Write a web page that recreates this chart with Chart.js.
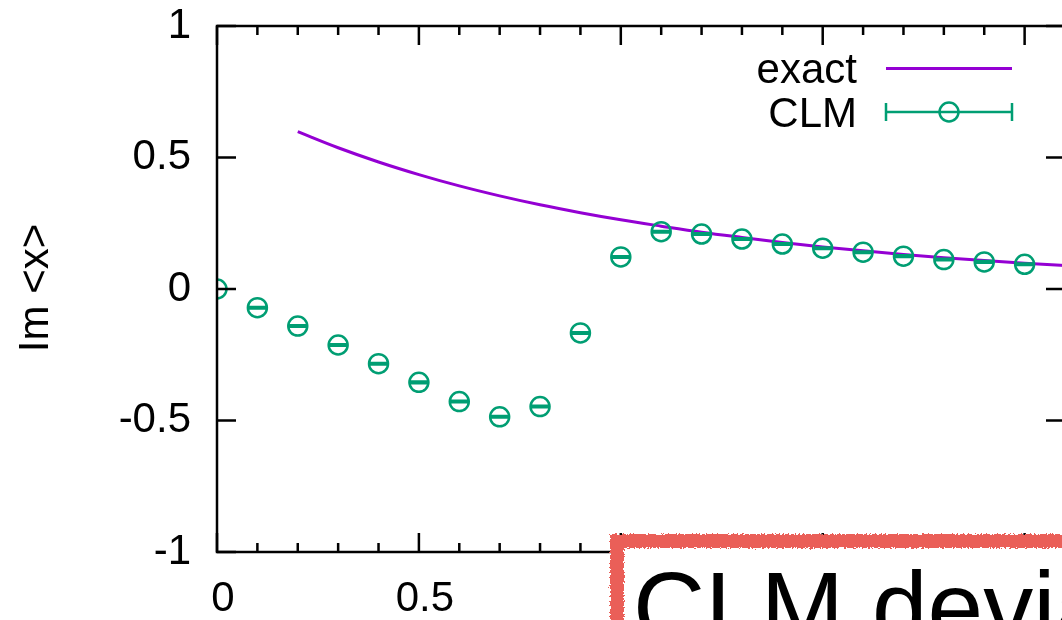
<!DOCTYPE html>
<html>
<head>
<meta charset="utf-8">
<title>Im &lt;x&gt;</title>
<script src="https://cdn.jsdelivr.net/npm/chart.js@4.4.1/dist/chart.umd.min.js"></script>
<style>
  html, body { margin: 0; padding: 0; background: #fff; overflow: hidden; }
  #wrap { position: relative; width: 1062px; height: 620px; overflow: hidden; }
  #plot { position: absolute; left: 0; top: 0; width: 1080px; height: 620px; }
  #noteFrame {
    position: absolute; left: 610px; top: 534px; width: 600px; height: 200px;
    box-sizing: border-box; border: 14px solid #ea5f58; background: #fff;
    filter: url(#rough);
  }
  #noteText {
    position: absolute; left: 633px; top: 557px; white-space: nowrap;
    font: 100px/100px "Liberation Sans", Arial, sans-serif; color: #000;
  }
</style>
</head>
<body>
<svg width="0" height="0" style="position:absolute">
  <filter id="rough">
    <feTurbulence type="fractalNoise" baseFrequency="0.55" numOctaves="2" result="noise"/>
    <feDisplacementMap in="SourceGraphic" in2="noise" scale="5" xChannelSelector="R" yChannelSelector="G"/>
  </filter>
</svg>
<div id="wrap">
  <div id="plot"><canvas id="chart" width="1080" height="620"></canvas></div>
  <div id="noteFrame"></div>
  <div id="noteText">CLM deviates</div>
</div>
<script>
// CLM samples with their (tiny) error bars
const clmX = [0, 0.1, 0.2, 0.3, 0.4, 0.5, 0.6, 0.7, 0.8, 0.9, 1.0,
              1.1, 1.2, 1.3, 1.4, 1.5, 1.6, 1.7, 1.8, 1.9, 2.0];
const clmY = [0, -0.071, -0.141, -0.213, -0.284, -0.355, -0.428, -0.486, -0.447, -0.167, 0.122,
              0.218, 0.209, 0.190, 0.171, 0.155, 0.140, 0.125, 0.112, 0.103, 0.094];
const clmErr = [0, 0.003, 0.003, 0.003, 0.003, 0.003, 0.003, 0.003, 0.003, 0.003, 0.003,
                0.003, 0.003, 0.003, 0.003, 0.003, 0.003, 0.003, 0.003, 0.003, 0.003];

// exact result
const exactX = [0.2, 0.3, 0.4, 0.5, 0.6, 0.7, 0.8, 0.9, 1.0, 1.1,
                1.2, 1.3, 1.4, 1.5, 1.6, 1.7, 1.8, 1.9, 2.0, 2.1];
const exactY = [0.598, 0.537, 0.483, 0.435, 0.392, 0.354, 0.320, 0.290, 0.263, 0.239,
                0.216, 0.196, 0.177, 0.160, 0.145, 0.131, 0.119, 0.108, 0.098, 0.089];

const xTicks = [0, 0.5, 1, 1.5, 2];
const yTicks = [-1, -0.5, 0, 0.5, 1];
const seriesNames = ['exact', 'CLM'];
const yTitle = 'Im <x>';

const FONT = '"Liberation Sans", Arial, sans-serif';
const PURPLE = '#9400d3';
const GREEN = '#009e73';

// border, inward ticks, error bars, key and y label in gnuplot style
const gnuplotFrame = {
  id: 'gnuplotFrame',
  afterDatasetsDraw(chart) {
    const { ctx, chartArea: a, scales: { x, y } } = chart;
    ctx.save();

    // error bars on CLM points
    ctx.strokeStyle = GREEN;
    ctx.lineWidth = 2.5;
    chart.getDatasetMeta(1).data.forEach((pt, i) => {
      const e = clmErr[i];
      if (!e) return;
      const yHi = y.getPixelForValue(clmY[i] + e);
      const yLo = y.getPixelForValue(clmY[i] - e);
      ctx.beginPath();
      ctx.moveTo(pt.x, yHi); ctx.lineTo(pt.x, yLo);
      ctx.moveTo(pt.x - 9, yHi); ctx.lineTo(pt.x + 9, yHi);
      ctx.moveTo(pt.x - 9, yLo); ctx.lineTo(pt.x + 9, yLo);
      ctx.stroke();
    });

    // border
    ctx.strokeStyle = '#000';
    ctx.lineWidth = 2.5;
    ctx.strokeRect(a.left, a.top, a.right - a.left, a.bottom - a.top);

    // x ticks: major every 0.5, minor every 0.1, both edges
    ctx.beginPath();
    for (let i = 0; i <= 21; i++) {
      const px = x.getPixelForValue(i / 10);
      const len = i % 5 === 0 ? 19 : 9;
      ctx.moveTo(px, a.bottom); ctx.lineTo(px, a.bottom - len);
      ctx.moveTo(px, a.top); ctx.lineTo(px, a.top + len);
    }
    // y ticks, mirrored on the right
    yTicks.forEach(v => {
      const py = y.getPixelForValue(v);
      ctx.moveTo(a.left, py); ctx.lineTo(a.left + 19, py);
      ctx.moveTo(a.right, py); ctx.lineTo(a.right - 19, py);
    });
    ctx.stroke();

    // key
    ctx.font = '42px ' + FONT;
    ctx.fillStyle = '#000';
    ctx.textAlign = 'right';
    ctx.textBaseline = 'alphabetic';
    ctx.fillText(seriesNames[0], 857, 83);
    ctx.fillText(seriesNames[1], 857, 127);

    ctx.strokeStyle = PURPLE;
    ctx.lineWidth = 3;
    ctx.beginPath();
    ctx.moveTo(886, 68.5); ctx.lineTo(1012, 68.5);
    ctx.stroke();

    ctx.strokeStyle = GREEN;
    ctx.lineWidth = 2.5;
    ctx.beginPath();
    ctx.moveTo(886, 112); ctx.lineTo(1012, 112);
    ctx.moveTo(886, 103); ctx.lineTo(886, 121);
    ctx.moveTo(1012, 103); ctx.lineTo(1012, 121);
    ctx.stroke();
    ctx.beginPath();
    ctx.arc(949, 112, 9.5, 0, Math.PI * 2);
    ctx.stroke();

    // rotated y label
    ctx.translate(48, 288);
    ctx.rotate(-Math.PI / 2);
    ctx.textAlign = 'center';
    ctx.fillStyle = '#000';
    ctx.fillText(yTitle, 0, 0);

    ctx.restore();
  }
};

const tickFont = { family: FONT, size: 42 };
const noPad = s => { s.paddingTop = 0; s.paddingBottom = 0; s.paddingLeft = 0; s.paddingRight = 0; };

new Chart(document.getElementById('chart'), {
  type: 'scatter',
  data: {
    datasets: [
      {
        label: seriesNames[0],
        data: exactX.map((v, i) => ({ x: v, y: exactY[i] })),
        showLine: true,
        borderColor: PURPLE,
        borderWidth: 3,
        pointRadius: 0,
        cubicInterpolationMode: 'monotone',
        order: 2
      },
      {
        label: seriesNames[1],
        data: clmX.map((v, i) => ({ x: v, y: clmY[i] })),
        showLine: false,
        borderColor: GREEN,
        backgroundColor: 'rgba(0,0,0,0)',
        pointRadius: 9.5,
        pointBorderWidth: 2.5,
        order: 1
      }
    ]
  },
  options: {
    responsive: false,
    animation: false,
    events: [],
    layout: { padding: { top: 26, right: 15, left: 0, bottom: 0 } },
    plugins: { legend: { display: false }, tooltip: { enabled: false } },
    scales: {
      x: {
        type: 'linear', min: 0, max: 2.1,
        afterBuildTicks: s => { s.ticks = xTicks.map(v => ({ value: v })); },
        afterFit: s => { s.height = 68; noPad(s); },
        grid: { display: false, drawTicks: false },
        border: { display: false },
        ticks: { font: tickFont, color: '#000', padding: 22, labelOffset: 6, maxRotation: 0,
                 autoSkip: false, callback: v => String(v) }
      },
      y: {
        type: 'linear', min: -1, max: 1,
        afterBuildTicks: s => { s.ticks = yTicks.map(v => ({ value: v })); },
        afterFit: s => { s.width = 217; noPad(s); },
        grid: { display: false, drawTicks: false },
        border: { display: false },
        ticks: { font: tickFont, color: '#000', padding: 26, autoSkip: false, callback: v => String(v) }
      }
    }
  },
  plugins: [gnuplotFrame]
});
</script>
</body>
</html>
